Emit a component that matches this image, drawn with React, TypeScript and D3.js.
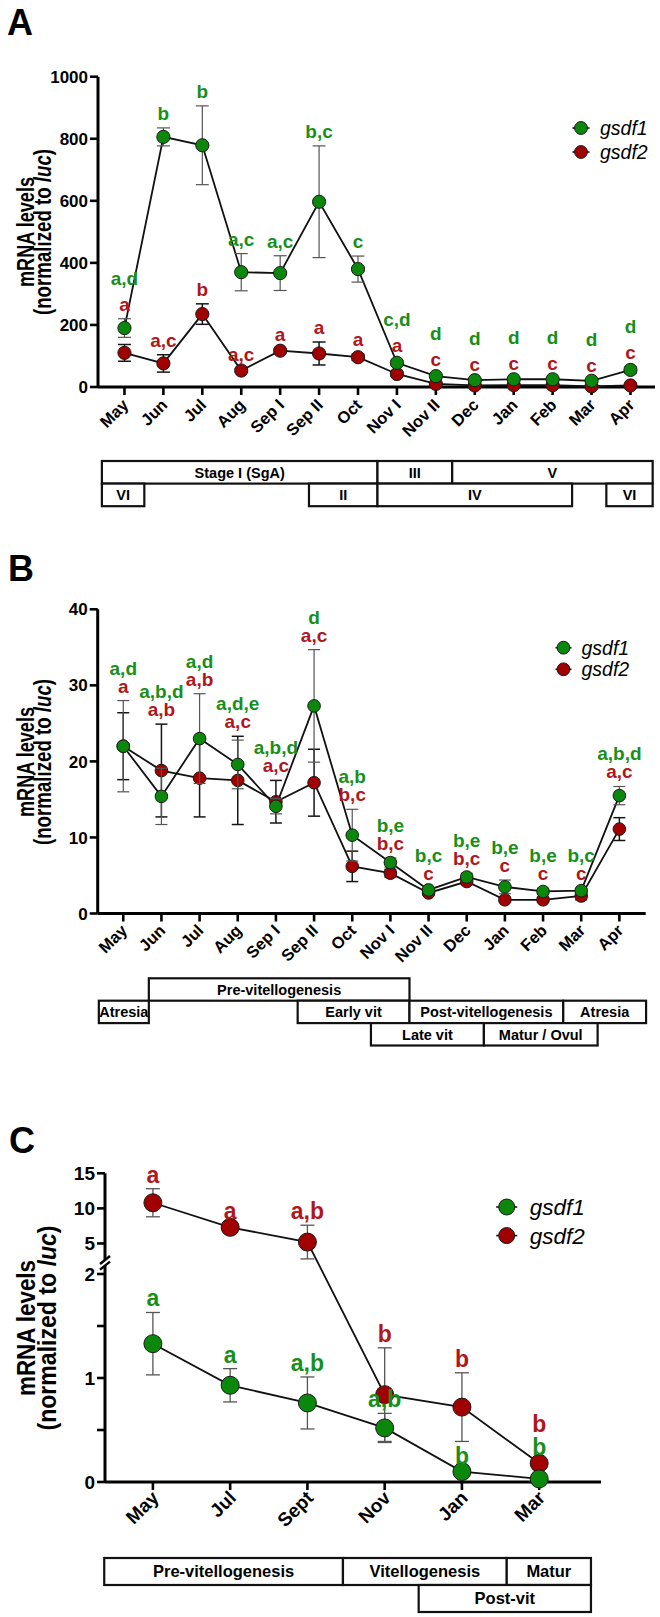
import React from 'react';
import * as d3 from 'd3';

// ---- A: testis, gsdf1 / gsdf2 over the reproductive cycle ----
const monthsA = ['May', 'Jun', 'Jul', 'Aug', 'Sep I', 'Sep II', 'Oct', 'Nov I', 'Nov II', 'Dec', 'Jan', 'Feb', 'Mar', 'Apr'];
const gsdf1A = [190, 806, 779, 370, 367, 597, 380, 78, 35, 22, 25, 25, 20, 55];
const gsdf1SemA = [30, 29, 127, 60, 56, 180, 42, 8, 6, 4, 4, 4, 4, 10];
const gsdf2A = [110, 76, 235, 53, 117, 108, 96, 42, 10, 5, 6, 6, 2, 5];
const gsdf2SemA = [27, 28, 33, 5, 6, 37, 10, 6, 3, 2, 2, 2, 1, 2];
const letters1A = ['a,d', 'b', 'b', 'a,c', 'a,c', 'b,c', 'c', 'c,d', 'd', 'd', 'd', 'd', 'd', 'd'];
const letters2A = ['a', 'a,c', 'b', 'a,c', 'a', 'a', 'a', 'a', 'c', 'c', 'c', 'c', 'c', 'c'];
const ticksA = [0, 200, 400, 600, 800, 1000];
// stage spans in sampling-point units (0 = May)
const stagesA = [
  { label: 'Stage I (SgA)', from: -0.58, to: 6.5, row: 0 },
  { label: 'III', from: 6.5, to: 8.42, row: 0 },
  { label: 'V', from: 8.42, to: 13.57, row: 0 },
  { label: 'VI', from: -0.58, to: 0.51, row: 1 },
  { label: 'II', from: 4.74, to: 6.5, row: 1 },
  { label: 'IV', from: 6.5, to: 11.5, row: 1 },
  { label: 'VI', from: 12.38, to: 13.57, row: 1 },
];

// ---- B: ovary ----
const monthsB = ['May', 'Jun', 'Jul', 'Aug', 'Sep I', 'Sep II', 'Oct', 'Nov I', 'Nov II', 'Dec', 'Jan', 'Feb', 'Mar', 'Apr'];
const gsdf1B = [22.0, 15.4, 23.0, 19.6, 14.1, 27.3, 10.3, 6.7, 3.1, 4.8, 3.5, 2.9, 3.0, 15.5];
const gsdf1SemB = [6.0, 3.7, 5.9, 3.2, 1.0, 7.4, 3.4, 0.6, 0.3, 0.5, 0.9, 0.4, 0.3, 1.2];
const gsdf2B = [22.0, 18.8, 17.8, 17.5, 14.7, 17.2, 6.2, 5.3, 2.7, 4.2, 1.8, 1.8, 2.3, 11.1];
const gsdf2SemB = [4.4, 6.1, 5.1, 5.8, 2.8, 4.4, 2.0, 0.5, 0.3, 0.4, 0.3, 0.3, 0.5, 1.5];
const letters1B = ['a,d', 'a,b,d', 'a,d', 'a,d,e', 'a,b,d', 'd', 'a,b', 'b,e', 'b,c', 'b,e', 'b,e', 'b,e', 'b,c', 'a,b,d'];
const letters2B = ['a', 'a,b', 'a,b', 'a,c', 'a,c', 'a,c', 'b,c', 'b,c', 'c', 'b,c', 'c', 'c', 'c', 'a,c'];
const ticksB = [0, 10, 20, 30, 40];
const stagesB = [
  { label: 'Pre-vitellogenesis', from: 0.67, to: 7.5, row: 0 },
  { label: 'Atresia', from: -0.64, to: 0.67, row: 1 },
  { label: 'Early vit', from: 4.57, to: 7.5, row: 1 },
  { label: 'Post-vitellogenesis', from: 7.5, to: 11.53, row: 1 },
  { label: 'Atresia', from: 11.53, to: 13.7, row: 1 },
  { label: 'Late vit', from: 6.49, to: 9.45, row: 2 },
  { label: 'Matur / Ovul', from: 9.45, to: 12.43, row: 2 },
];

// ---- C: ovary, bimonthly, broken y axis ----
const monthsC = ['May', 'Jul', 'Sept', 'Nov', 'Jan', 'Mar'];
const gsdf1C = [1.33, 0.93, 0.76, 0.52, 0.1, 0.03];
const gsdf1SemC = [0.3, 0.16, 0.25, 0.14, 0.02, 0.01];
const gsdf2C = [10.8, 7.3, 5.2, 0.84, 0.72, 0.18];
const gsdf2SemC = [2.0, 0.4, 2.4, 0.45, 0.33, 0.02];
const letters1C = ['a', 'a', 'a,b', 'a,b', 'b', 'b'];
const letters2C = ['a', 'a', 'a,b', 'b', 'b', 'b'];
const ticksCUpper = [5, 10, 15];
const ticksCLower = [0, 0.5, 1, 1.5, 2];
const stagesC = [
  { label: 'Pre-vitellogenesis', from: -0.63, to: 2.46, row: 0 },
  { label: 'Vitellogenesis', from: 2.46, to: 4.58, row: 0 },
  { label: 'Matur', from: 4.58, to: 5.67, row: 0 },
  { label: 'Post-vit', from: 3.44, to: 5.67, row: 1 },
];

const FONT = 'Arial, "Liberation Sans", Helvetica, sans-serif';
const GREEN = '#0b870b';
const RED = '#a00000';
const GREEN_INK = '#16901a';
const RED_INK = '#b0161b';

type Stage = { label: string; from: number; to: number; row: number };
type Series = {
  name: string;
  mean: number[];
  sem: number[];
  letters: string[];
  fill: string;
  ink: string;
  bar: string;
  barWidth: number;
};

const series = (name: string, mean: number[], sem: number[], letters: string[], green: boolean): Series => ({
  name,
  mean,
  sem,
  letters,
  fill: green ? GREEN : RED,
  ink: green ? GREEN_INK : RED_INK,
  bar: green ? '#555' : '#161616',
  barWidth: green ? 1.2 : 1.5,
});

function YTitle({ cy, b1, b2, size, len1, len2 }: any) {
  return (
    <g fontFamily={FONT} fontWeight="bold" fontSize={size} textAnchor="middle">
      <text transform={`translate(${b1},${cy}) rotate(-90)`} textLength={len1} lengthAdjust="spacingAndGlyphs">
        mRNA levels
      </text>
      <text transform={`translate(${b2},${cy}) rotate(-90)`} textLength={len2} lengthAdjust="spacingAndGlyphs">
        (normalized to <tspan fontStyle="italic">luc</tspan>)
      </text>
    </g>
  );
}

function YTicks({ x, ticks, yAt, size, labelled = (v: number) => true }: any) {
  return (
    <g fontFamily={FONT} fontWeight="bold" fontSize={size}>
      {ticks.map((v: number) => (
        <g key={v}>
          <line x1={x - 8} x2={x} y1={yAt(v)} y2={yAt(v)} stroke="#000" strokeWidth={2.6} />
          {labelled(v) && (
            <text x={x - 10} y={yAt(v)} dy="0.36em" textAnchor="end">
              {d3.format('d')(v)}
            </text>
          )}
        </g>
      ))}
    </g>
  );
}

function XAxis({ xs, x0, x1, y, labels, size, dx, dy }: any) {
  return (
    <g>
      <line x1={x0} x2={x1} y1={y} y2={y} stroke="#000" strokeWidth={3} />
      {labels.map((m: string, i: number) => (
        <g key={m + i}>
          <line x1={xs(i)} x2={xs(i)} y1={y} y2={y + 8} stroke="#000" strokeWidth={2.6} />
          <text
            transform={`translate(${xs(i) + dx},${y + dy}) rotate(-45)`}
            textAnchor="end"
            fontFamily={FONT}
            fontWeight="bold"
            fontSize={size}
          >
            {m}
          </text>
        </g>
      ))}
    </g>
  );
}

function Lines({ xs, yAt, all }: any) {
  const line = d3.line<number>().x((_, i) => xs(i)).y((v) => yAt(v));
  return (
    <g>
      {all.map((s: Series) => (
        <path key={s.name} d={line(s.mean) || ''} fill="none" stroke="#111" strokeWidth={1.8} />
      ))}
    </g>
  );
}

function Points({ xs, yAt, s, r, cap }: { xs: any; yAt: (v: number) => number; s: Series; r: number; cap: number }) {
  return (
    <g>
      {s.mean.map((v, i) => {
        const x = xs(i);
        const hi = yAt(v + s.sem[i]);
        const lo = yAt(Math.max(0, v - s.sem[i]));
        return (
          <g key={i} stroke={s.bar} strokeWidth={s.barWidth}>
            <line x1={x} x2={x} y1={hi} y2={lo} />
            <line x1={x - cap} x2={x + cap} y1={hi} y2={hi} />
            <line x1={x - cap} x2={x + cap} y1={lo} y2={lo} />
          </g>
        );
      })}
      {s.mean.map((v, i) => (
        <circle key={'c' + i} cx={xs(i)} cy={yAt(v)} r={r} fill={s.fill} stroke="#1a1a1a" strokeWidth={1} />
      ))}
    </g>
  );
}

// significance letters: above each error bar, stacked when the two would collide
function Letters({ xs, yAt, g, rd, size, gap, lead, near, greenTop }: any) {
  return (
    <g fontFamily={FONT} fontWeight="bold" fontSize={size} textAnchor="middle">
      {g.mean.map((_: number, i: number) => {
        let gb = yAt(g.mean[i] + g.sem[i]) - gap;
        let rb = yAt(rd.mean[i] + rd.sem[i]) - gap;
        if (Math.abs(gb - rb) < near) {
          const base = Math.min(gb, rb);
          const greenUp = greenTop || gb <= rb;
          gb = greenUp ? base - lead : base;
          rb = greenUp ? base : base - lead;
        }
        return (
          <g key={i}>
            <text x={xs(i)} y={gb} fill={g.ink}>{g.letters[i]}</text>
            <text x={xs(i)} y={rb} fill={rd.ink}>{rd.letters[i]}</text>
          </g>
        );
      })}
    </g>
  );
}

function Legend({ x, y, step, r, half, size, textX, items }: any) {
  return (
    <g>
      {items.map((s: Series, k: number) => (
        <g key={s.name} transform={`translate(${x},${y + k * step})`}>
          <line x1={-half} x2={half} stroke="#111" strokeWidth={1.6} />
          <circle r={r} fill={s.fill} stroke="#1a1a1a" strokeWidth={1} />
          <text x={textX} y={size * 0.36} fontFamily={FONT} fontStyle="italic" fontSize={size}>
            {s.name}
          </text>
        </g>
      ))}
    </g>
  );
}

function Stages({ xs, top, rowH, stages, size }: { xs: any; top: number; rowH: number; stages: Stage[]; size: number }) {
  return (
    <g fontFamily={FONT} fontWeight="bold" fontSize={size} textAnchor="middle">
      {stages.map((s, k) => {
        const x0 = xs(s.from);
        const x1 = xs(s.to);
        const y0 = top + s.row * rowH;
        return (
          <g key={k}>
            <rect x={x0} y={y0} width={x1 - x0} height={rowH} fill="#fff" stroke="#111" strokeWidth={2.2} />
            <text x={(x0 + x1) / 2} y={y0 + rowH / 2} dy="0.36em">{s.label}</text>
          </g>
        );
      })}
    </g>
  );
}

function PanelLetter({ x, y, text }: any) {
  return (
    <text x={x} y={y} fontFamily={FONT} fontWeight="bold" fontSize={36}>
      {text}
    </text>
  );
}

export default function App() {
  // ----- A -----
  const xA = d3.scaleLinear().domain([-0.68, 13.63]).range([98, 655]);
  const yA = d3.scaleLinear().domain([0, 1000]).range([387, 76.7]);
  const g1A = series('gsdf1', gsdf1A, gsdf1SemA, letters1A, true);
  const g2A = series('gsdf2', gsdf2A, gsdf2SemA, letters2A, false);

  // ----- B -----
  const xB = d3.scaleLinear().domain([-0.67, 13.69]).range([97.7, 645.7]);
  const yB = d3.scaleLinear().domain([0, 40]).range([913.5, 609.3]);
  const g1B = series('gsdf1', gsdf1B, gsdf1SemB, letters1B, true);
  const g2B = series('gsdf2', gsdf2B, gsdf2SemB, letters2B, false);

  // ----- C -----
  const xC = d3.scaleLinear().domain([-0.62, 5.8]).range([105, 601]);
  const yCUp = d3.scaleLinear().domain([2.5, 15]).range([1261, 1173.3]);
  const yCLow = d3.scaleLinear().domain([0, 2]).range([1482, 1274]);
  const yC = (v: number) => (v > 2.25 ? yCUp(v) : yCLow(v));
  const g1C = series('gsdf1', gsdf1C, gsdf1SemC, letters1C, true);
  const g2C = series('gsdf2', gsdf2C, gsdf2SemC, letters2C, false);
  const axC = 105;

  return (
    <div style={{ position: 'absolute', left: 0, top: 0 }}>
      <svg width={660} height={1617} viewBox="0 0 660 1617" style={{ display: 'block', background: '#fff' }}>
        {/* A */}
        <PanelLetter x={7} y={35} text="A" />
        <YTitle cy={232} b1={34} b2={51} size={23} len1={110} len2={166} />
        <line x1={98} x2={98} y1={yA(1000)} y2={yA(0)} stroke="#000" strokeWidth={3} />
        <YTicks x={98} ticks={ticksA} yAt={yA} size={17} />
        <XAxis xs={xA} x0={98} x1={655} y={yA(0)} labels={monthsA} size={16.5} dx={5} dy={19} />
        <Lines xs={xA} yAt={yA} all={[g1A, g2A]} />
        <Points xs={xA} yAt={yA} s={g2A} r={6.6} cap={6.5} />
        <Points xs={xA} yAt={yA} s={g1A} r={6.6} cap={6.5} />
        <Letters xs={xA} yAt={yA} g={g1A} rd={g2A} size={19} gap={8} lead={26} near={30} greenTop={false} />
        <Legend x={581} y={128} step={24} r={6.4} half={8.5} size={19.5} textX={19} items={[g1A, g2A]} />
        <Stages xs={xA} top={461} rowH={22.6} stages={stagesA} size={14.5} />

        {/* B */}
        <PanelLetter x={8} y={581} text="B" />
        <YTitle cy={762} b1={34} b2={51} size={23} len1={110} len2={166} />
        <line x1={97.7} x2={97.7} y1={yB(40)} y2={yB(0)} stroke="#000" strokeWidth={3} />
        <YTicks x={97.7} ticks={ticksB} yAt={yB} size={17} />
        <XAxis xs={xB} x0={97.7} x1={645.7} y={yB(0)} labels={monthsB} size={16.5} dx={5} dy={18} />
        <Lines xs={xB} yAt={yB} all={[g1B, g2B]} />
        <Points xs={xB} yAt={yB} s={g2B} r={6.3} cap={6} />
        <Points xs={xB} yAt={yB} s={g1B} r={6.3} cap={6} />
        <Letters xs={xB} yAt={yB} g={g1B} rd={g2B} size={19} gap={8} lead={18} near={1e9} greenTop={true} />
        <Legend x={563.5} y={647.7} step={21.6} r={6.4} half={8} size={19.5} textX={18} items={[g1B, g2B]} />
        <Stages xs={xB} top={978.3} rowH={22.4} stages={stagesB} size={14.5} />

        {/* C */}
        <PanelLetter x={9} y={1153} text="C" />
        <YTitle cy={1328} b1={35} b2={56} size={26} len1={136} len2={205} />
        <line x1={axC} x2={axC} y1={yCUp(15)} y2={yCUp(2.5) - 1} stroke="#000" strokeWidth={3} />
        <line x1={axC - 5} x2={axC + 5} y1={yCUp(2.5) + 3} y2={yCUp(2.5) - 5} stroke="#000" strokeWidth={2.4} />
        <line x1={axC} x2={axC} y1={yCLow(2.08)} y2={yCLow(0)} stroke="#000" strokeWidth={3} />
        <line x1={axC - 5} x2={axC + 5} y1={yCLow(2.08) + 4} y2={yCLow(2.08) - 4} stroke="#000" strokeWidth={2.4} />
        <YTicks x={axC} ticks={ticksCUpper} yAt={yCUp} size={19} />
        <YTicks x={axC} ticks={ticksCLower} yAt={yCLow} size={19} labelled={(v: number) => Number.isInteger(v)} />
        <XAxis xs={xC} x0={axC} x1={601} y={yCLow(0)} labels={monthsC} size={19} dx={7} dy={17} />
        <Lines xs={xC} yAt={yC} all={[g1C, g2C]} />
        <Points xs={xC} yAt={yC} s={{ ...g2C, bar: '#555', barWidth: 1.3 }} r={9} cap={7} />
        <Points xs={xC} yAt={yC} s={{ ...g1C, barWidth: 1.3 }} r={9} cap={7} />
        <Letters xs={xC} yAt={yC} g={g1C} rd={g2C} size={23} gap={6} lead={23} near={25} greenTop={false} />
        <Legend x={506.7} y={1207} step={28.6} r={8} half={10.5} size={22.5} textX={23} items={[g1C, g2C]} />
        <Stages xs={xC} top={1558} rowH={27} stages={stagesC} size={16.5} />
      </svg>
    </div>
  );
}
